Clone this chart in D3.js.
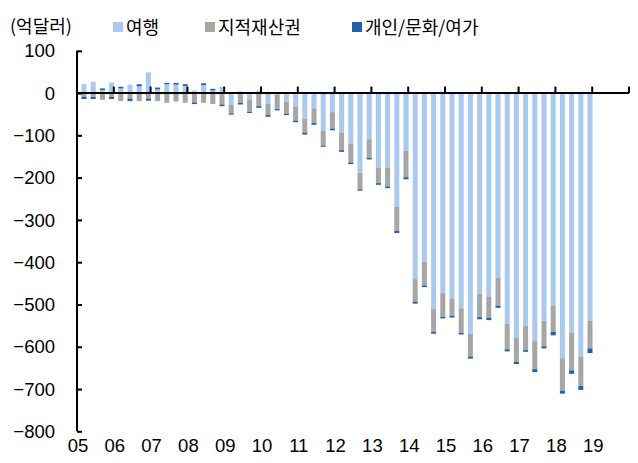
<!DOCTYPE html>
<html>
<head>
<meta charset="utf-8">
<script src="https://cdn.jsdelivr.net/npm/d3@7"></script>
<style>
  body { margin: 0; background: #fff; }
  svg { display: block; }
  .tick-label { font-family: "Liberation Sans", Arial, sans-serif; font-size: 18.5px; fill: #000; }
  .legend-label { font-family: "Noto Sans CJK KR", sans-serif; font-size: 18px; fill: #000; }
</style>
</head>
<body>
<svg id="chart"></svg>
<script>
// Chart size
const width = 638;
const height = 463;

// Year labels on the x axis (one group of 4 quarters per year)
const years = ["05", "06", "07", "08", "09", "10", "11", "12", "13", "14", "15", "16", "17", "18", "19"];
const quarters = ["Q1", "Q2", "Q3", "Q4"];

// Quarterly values, 2005Q1 ~ 2018Q4 (억달러)
const travel = [21, 27, 7, 25, 11, 20, 16, 49, 9, 21, 20, 17, 6, 19, 6, 15,
    -28, 4, -15, 6, -25, -3, -20, -33, -61, -36, -90, -45, -94, -120, -188, -109,
    -176, -176, -269, -137, -440, -399, -511, -473, -487, -509, -569, -474, -481, -437, -546, -579,
    -551, -587, -539, -503, -627, -567, -623, -538];
const ipRights = [-9, -9, -16, -9, -19, -14, -19, -13, -19, -23, -20, -23, -22, -23, -26, -27,
    -20, -23, -29, -31, -27, -35, -29, -32, -33, -35, -34, -39, -41, -44, -40, -44,
    -37, -45, -57, -62, -53, -56, -54, -56, -40, -58, -54, -56, -51, -66, -60, -57,
    -57, -66, -60, -62, -77, -89, -70, -66];
const personal = [-5, -5, 4, -5, 4, -5, 5, -5, 4, 3, 4, 4, -4, 4, 4, -4,
    -3, -4, -3, -4, -4, -3, -3, -4, -4, -4, -3, -4, -4, -4, -3, -4,
    -4, -4, -5, -5, -5, -4, -4, -4, -4, -4, -5, -5, -5, -5, -5, -5,
    -4, -7, -5, -8, -7, -8, -9, -11];

// Y axis ticks
const yTicks = [100, 0, -100, -200, -300, -400, -500, -600, -700, -800];

// Series names and colours
const seriesNames = ["여행", "지적재산권", "개인/문화/여가"];
const colors = ["#a8caf0", "#a6a6a6", "#1f5fac"];

// Build the table for the stack
const periods = years.flatMap(y => quarters.map(q => y + q));
const rows = travel.map((d, i) => ({
    period: periods[i],
    "여행": d,
    "지적재산권": ipRights[i],
    "개인/문화/여가": personal[i]
}));

const stack = d3.stack()
    .keys(seriesNames)
    .offset(d3.stackOffsetDiverging);
const stacked = stack(rows);

// Scales
const x = d3.scaleBand()
    .domain(periods)
    .range([77, 629])
    .padding(0);

const y = d3.scaleLinear()
    .domain([-800, 100])
    .range([431.3, 50.8]);

const color = d3.scaleOrdinal().domain(seriesNames).range(colors);

const svg = d3.select("#chart")
    .attr("width", width)
    .attr("height", height);

const barWidth = 5;
const barShift = 2.4; // bars sit slightly right of centre in the original

// Bars
svg.append("g")
    .selectAll("g")
    .data(stacked)
    .join("g")
    .attr("fill", d => color(d.key))
    .selectAll("rect")
    .data(d => d)
    .join("rect")
    .attr("x", d => x(d.data.period) + x.bandwidth() / 2 + barShift - barWidth / 2)
    .attr("width", barWidth)
    .attr("y", d => y(Math.max(d[0], d[1])))
    .attr("height", d => Math.abs(y(d[0]) - y(d[1])));

// Y axis (ticks pointing right, into the plot)
const yAxis = svg.append("g")
    .attr("transform", "translate(77,0)")
    .call(d3.axisRight(y).tickValues(yTicks).tickSize(5).tickFormat(""));
yAxis.select(".domain").attr("stroke", "#000").attr("stroke-width", 2)
    .attr("d", `M0,${y(100)}V${y(-800)}`);
yAxis.selectAll(".tick line").attr("stroke", "#000").attr("stroke-width", 2);

// Y tick labels
svg.append("g")
    .selectAll("text")
    .data(yTicks)
    .join("text")
    .attr("class", "tick-label")
    .attr("x", 55)
    .attr("y", d => y(d))
    .attr("dy", "0.36em")
    .attr("text-anchor", "end")
    .text(d => d3.format("d")(d));

// X axis along zero, ticks at the start of each year pointing up
const yearStarts = years.map(yr => x(yr + "Q1")).concat([x.range()[1]]);
const xAxis = svg.append("g");
xAxis.append("line")
    .attr("x1", 76).attr("x2", 629)
    .attr("y1", y(0)).attr("y2", y(0))
    .attr("stroke", "#000").attr("stroke-width", 2);
xAxis.selectAll(".xtick")
    .data(yearStarts.slice(1))
    .join("line")
    .attr("class", "xtick")
    .attr("x1", d => d).attr("x2", d => d)
    .attr("y1", y(0)).attr("y2", y(0) - 6.5)
    .attr("stroke", "#000").attr("stroke-width", 2);

// Year labels
svg.append("g")
    .selectAll("text")
    .data(years)
    .join("text")
    .attr("class", "tick-label")
    .attr("x", d => x(d + "Q1") + 1)
    .attr("y", 452)
    .attr("text-anchor", "middle")
    .text(d => d);

// Unit label
svg.append("text")
    .attr("class", "legend-label")
    .attr("x", 10)
    .attr("y", 33)
    .text("(억달러)");

// Legend
const legendX = [113, 205, 352];
const legend = svg.append("g")
    .selectAll("g")
    .data(seriesNames)
    .join("g")
    .attr("transform", (d, i) => `translate(${legendX[i]},0)`);
legend.append("rect")
    .attr("x", 0).attr("y", 22)
    .attr("width", 10).attr("height", 10)
    .attr("fill", d => color(d));
legend.append("text")
    .attr("class", "legend-label")
    .attr("x", 13)
    .attr("y", 33.5)
    .text(d => d);
</script>
</body>
</html>
